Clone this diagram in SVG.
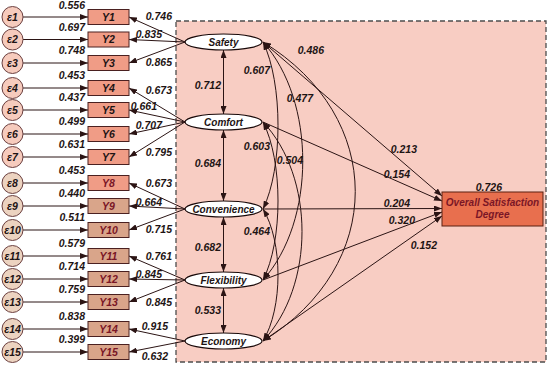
<svg xmlns="http://www.w3.org/2000/svg" width="550" height="366" viewBox="0 0 550 366">
<style>
.t{font-family:"Liberation Sans",Arial,sans-serif;font-style:italic;font-weight:bold;font-size:10.5px;fill:#1e1414}
.e{text-anchor:end}
.m{text-anchor:middle}
.ln{fill:none;stroke:#2b1414;stroke-width:1}
.err{fill:#f6cbbd;stroke:#6b4040;stroke-width:1}
.err2{fill:#ecd3c0;stroke:#6b4040;stroke-width:1}
.obs{fill:#f09c86;stroke:#4a2020;stroke-width:1}
.obs2{fill:#d9a58a;stroke:#4a2020;stroke-width:1}
.lat{fill:#ffffff;stroke:#1a0a0a;stroke-width:1.2}
.red{fill:#7a1626}
.f{font-size:10px}
</style>
<defs>
<marker id="ah" markerUnits="userSpaceOnUse" markerWidth="8" markerHeight="6" refX="8" refY="3" orient="auto-start-reverse">
<path d="M0,0 L8,3 L0,6 z" fill="#2b1414"/>
</marker>
</defs>
<rect x="176" y="21" width="370" height="341" fill="#f8cdc3" stroke="#4d4d4d" stroke-width="1.3" stroke-dasharray="5 3"/>

<g id="connectors">
<g class="ln" marker-end="url(#ah)">
<line x1="23" y1="17" x2="88" y2="17"/>
<line x1="23" y1="39.5" x2="88" y2="39.5"/>
<line x1="23" y1="63" x2="88" y2="63"/>
<line x1="23" y1="88" x2="88" y2="88"/>
<line x1="23" y1="110" x2="88" y2="110"/>
<line x1="23" y1="134" x2="88" y2="134"/>
<line x1="23" y1="157" x2="88" y2="157"/>
<line x1="23" y1="183" x2="88" y2="183"/>
<line x1="23" y1="206" x2="88" y2="206"/>
<line x1="23" y1="230" x2="88" y2="230"/>
<line x1="23" y1="256" x2="88" y2="256"/>
<line x1="23" y1="279" x2="88" y2="279"/>
<line x1="23" y1="302" x2="88" y2="302"/>
<line x1="23" y1="329" x2="88" y2="329"/>
<line x1="23" y1="352" x2="88" y2="352"/>
<line x1="185" y1="42" x2="129" y2="17"/>
<line x1="185" y1="42" x2="129" y2="39.5"/>
<line x1="185" y1="42" x2="129" y2="63"/>
<line x1="185" y1="122" x2="129" y2="88"/>
<line x1="185" y1="122" x2="129" y2="110"/>
<line x1="185" y1="122" x2="129" y2="134"/>
<line x1="185" y1="122" x2="129" y2="157"/>
<line x1="185" y1="209" x2="129" y2="183"/>
<line x1="185" y1="209" x2="129" y2="206"/>
<line x1="185" y1="209" x2="129" y2="230"/>
<line x1="185" y1="280" x2="129" y2="256"/>
<line x1="185" y1="280" x2="129" y2="279"/>
<line x1="185" y1="280" x2="129" y2="302"/>
<line x1="185" y1="341" x2="129" y2="329"/>
<line x1="185" y1="341" x2="129" y2="352"/>
<line x1="263" y1="42" x2="442" y2="196"/>
<line x1="263" y1="122" x2="442" y2="201"/>
<line x1="263" y1="209" x2="442" y2="208.5"/>
<line x1="263" y1="280" x2="442" y2="212"/>
<line x1="263" y1="341" x2="442" y2="216"/>
</g>
<g class="ln" marker-start="url(#ah)" marker-end="url(#ah)">
<line x1="223.5" y1="50" x2="223.5" y2="114"/>
<line x1="223.5" y1="130" x2="223.5" y2="201"/>
<line x1="223.5" y1="217" x2="223.5" y2="272"/>
<line x1="223.5" y1="288" x2="223.5" y2="333"/>
<path d="M263,42 C283,83 283,168 263,209"/>
<path d="M263,122 C283,161 283,241 263,280"/>
<path d="M263,209 C283,242 283,308 263,341"/>
<path d="M263,42 C316,101 316,221 263,280"/>
<path d="M263,122 C315,177 315,286 263,341"/>
<path d="M263,42 C386,117 386,266 263,341"/>
</g>
<g class="t e">
<text x="85" y="8.5">0.556</text>
<text x="85" y="31">0.697</text>
<text x="85" y="54">0.748</text>
<text x="85" y="79">0.453</text>
<text x="85" y="101">0.437</text>
<text x="85" y="125">0.499</text>
<text x="85" y="148">0.631</text>
<text x="85" y="174">0.453</text>
<text x="85" y="197">0.440</text>
<text x="85" y="221">0.511</text>
<text x="85" y="247">0.579</text>
<text x="85" y="270">0.714</text>
<text x="85" y="293">0.759</text>
<text x="85" y="320">0.838</text>
<text x="85" y="343">0.399</text>
<text x="172" y="20">0.746</text>
<text x="162" y="38">0.835</text>
<text x="172" y="66">0.865</text>
<text x="172" y="94">0.673</text>
<text x="157" y="110">0.661</text>
<text x="162" y="129">0.707</text>
<text x="172" y="156">0.795</text>
<text x="172" y="187">0.673</text>
<text x="162" y="206">0.664</text>
<text x="172" y="233">0.715</text>
<text x="172" y="260">0.761</text>
<text x="162" y="278">0.845</text>
<text x="172" y="306">0.845</text>
<text x="168" y="330">0.915</text>
<text x="168" y="360">0.632</text>
<text x="221" y="89">0.712</text>
<text x="221" y="167">0.684</text>
<text x="221" y="251">0.682</text>
<text x="221" y="314">0.533</text>
<text x="270" y="74">0.607</text>
<text x="313" y="102">0.477</text>
<text x="324" y="54">0.486</text>
<text x="270" y="150">0.603</text>
<text x="303" y="164">0.504</text>
<text x="270" y="235">0.464</text>
<text x="417" y="153">0.213</text>
<text x="410" y="178">0.154</text>
<text x="410" y="207">0.204</text>
<text x="415" y="224">0.320</text>
<text x="437" y="249">0.152</text>
<text x="502" y="191">0.726</text>
</g>
</g>

<g id="e1"><circle class="err" cx="12.5" cy="17" r="10.5"/><text class="t m" x="12.5" y="20.8">ε1</text></g>
<g id="e2"><circle class="err" cx="12.5" cy="39.5" r="10.5"/><text class="t m" x="12.5" y="43.3">ε2</text></g>
<g id="e3"><circle class="err" cx="12.5" cy="63" r="10.5"/><text class="t m" x="12.5" y="66.8">ε3</text></g>
<g id="e4"><circle class="err" cx="12.5" cy="88" r="10.5"/><text class="t m" x="12.5" y="91.8">ε4</text></g>
<g id="e5"><circle class="err" cx="12.5" cy="110" r="10.5"/><text class="t m" x="12.5" y="113.8">ε5</text></g>
<g id="e6"><circle class="err" cx="12.5" cy="134" r="10.5"/><text class="t m" x="12.5" y="137.8">ε6</text></g>
<g id="e7"><circle class="err" cx="12.5" cy="157" r="10.5"/><text class="t m" x="12.5" y="160.8">ε7</text></g>
<g id="e8"><circle class="err2" cx="12.5" cy="183" r="10.5"/><text class="t m" x="12.5" y="186.8">ε8</text></g>
<g id="e9"><circle class="err2" cx="12.5" cy="206" r="10.5"/><text class="t m" x="12.5" y="209.8">ε9</text></g>
<g id="e10"><circle class="err2" cx="12.5" cy="230" r="10.5"/><text class="t m" x="12.5" y="233.8">ε10</text></g>
<g id="e11"><circle class="err2" cx="12.5" cy="256" r="10.5"/><text class="t m" x="12.5" y="259.8">ε11</text></g>
<g id="e12"><circle class="err2" cx="12.5" cy="279" r="10.5"/><text class="t m" x="12.5" y="282.8">ε12</text></g>
<g id="e13"><circle class="err2" cx="12.5" cy="302" r="10.5"/><text class="t m" x="12.5" y="305.8">ε13</text></g>
<g id="e14"><circle class="err2" cx="12.5" cy="329" r="10.5"/><text class="t m" x="12.5" y="332.8">ε14</text></g>
<g id="e15"><circle class="err2" cx="12.5" cy="352" r="10.5"/><text class="t m" x="12.5" y="355.8">ε15</text></g>

<g id="Y1"><rect class="obs" x="88" y="9.5" width="41" height="15"/><text class="t m" x="108.5" y="20.8">Y1</text></g>
<g id="Y2"><rect class="obs" x="88" y="32" width="41" height="15"/><text class="t m" x="108.5" y="43.3">Y2</text></g>
<g id="Y3"><rect class="obs" x="88" y="55.5" width="41" height="15"/><text class="t m" x="108.5" y="66.8">Y3</text></g>
<g id="Y4"><rect class="obs" x="88" y="80.5" width="41" height="15"/><text class="t m" x="108.5" y="91.8">Y4</text></g>
<g id="Y5"><rect class="obs" x="88" y="102.5" width="41" height="15"/><text class="t m" x="108.5" y="113.8">Y5</text></g>
<g id="Y6"><rect class="obs" x="88" y="126.5" width="41" height="15"/><text class="t m" x="108.5" y="137.8">Y6</text></g>
<g id="Y7"><rect class="obs" x="88" y="149.5" width="41" height="15"/><text class="t m" x="108.5" y="160.8">Y7</text></g>
<g id="Y8"><rect class="obs" x="88" y="175.5" width="41" height="15"/><text class="t m red" x="108.5" y="186.8">Y8</text></g>
<g id="Y9"><rect class="obs2" x="88" y="198.5" width="41" height="15"/><text class="t m red" x="108.5" y="209.8">Y9</text></g>
<g id="Y10"><rect class="obs2" x="88" y="222.5" width="41" height="15"/><text class="t m red" x="108.5" y="233.8">Y10</text></g>
<g id="Y11"><rect class="obs2" x="88" y="248.5" width="41" height="15"/><text class="t m red" x="108.5" y="259.8">Y11</text></g>
<g id="Y12"><rect class="obs2" x="88" y="271.5" width="41" height="15"/><text class="t m red" x="108.5" y="282.8">Y12</text></g>
<g id="Y13"><rect class="obs2" x="88" y="294.5" width="41" height="15"/><text class="t m red" x="108.5" y="305.8">Y13</text></g>
<g id="Y14"><rect class="obs2" x="88" y="321.5" width="41" height="15"/><text class="t m red" x="108.5" y="332.8">Y14</text></g>
<g id="Y15"><rect class="obs2" x="88" y="344.5" width="41" height="15"/><text class="t m red" x="108.5" y="355.8">Y15</text></g>

<g id="Safety"><ellipse class="lat" cx="223.5" cy="42" rx="38.5" ry="8"/><text class="t m f" x="223.5" y="45.5">Safety</text></g>
<g id="Comfort"><ellipse class="lat" cx="223.5" cy="122" rx="38.5" ry="8"/><text class="t m f" x="223.5" y="125.5">Comfort</text></g>
<g id="Convenience"><ellipse class="lat" cx="223.5" cy="209" rx="38.5" ry="8"/><text class="t m f" x="223.5" y="212.5">Convenience</text></g>
<g id="Flexibility"><ellipse class="lat" cx="223.5" cy="280" rx="38.5" ry="8"/><text class="t m f" x="223.5" y="283.5">Flexibility</text></g>
<g id="Economy"><ellipse class="lat" cx="223.5" cy="341" rx="38.5" ry="8"/><text class="t m f" x="223.5" y="344.5">Economy</text></g>

<g id="Overall"><rect x="442" y="192" width="101" height="34" fill="#e86f4e" stroke="#5a2010" stroke-width="1"/><text class="t m red f" x="492.5" y="205.5">Overall Satisfaction</text><text class="t m red f" x="492.5" y="218">Degree</text></g>
</svg>
